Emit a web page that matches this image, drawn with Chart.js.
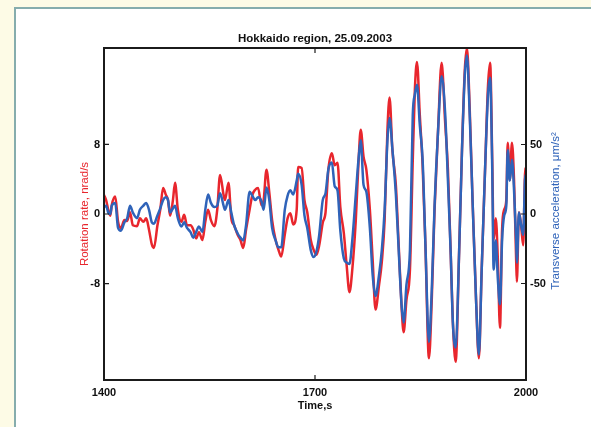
<!DOCTYPE html>
<html>
<head>
<meta charset="utf-8">
<script src="https://cdn.jsdelivr.net/npm/chart.js@4.4.0/dist/chart.umd.min.js"></script>
<style>
    html, body { margin: 0; padding: 0; background: #fdfbe6; overflow: hidden; }
    #panel {
        position: absolute; left: 14px; top: 7px; width: 600px; height: 440px;
        background: #ffffff; border-left: 2px solid #86adad; border-top: 2px solid #86adad;
    }
    #chart { position: absolute; left: 0; top: 0; }
</style>
</head>
<body>
<div id="panel"></div>
<canvas id="chart" width="591" height="427"></canvas>
<script>
// time, s
const times = [1400, 1403, 1406, 1409, 1411, 1416, 1420, 1424, 1429, 1433, 1437, 1441, 1447, 1451, 1456, 1460, 1464, 1468, 1471, 1476,
    1480, 1484, 1488, 1491, 1494, 1498, 1501, 1505, 1510, 1514, 1518, 1523, 1527, 1531, 1535, 1540, 1544, 1548, 1552, 1557,
    1561, 1565, 1570, 1572, 1577, 1581, 1585, 1590, 1594, 1598, 1602, 1607, 1611, 1615, 1619, 1624, 1627, 1631, 1635, 1639,
    1644, 1648, 1652, 1657, 1661, 1665, 1669, 1674, 1676, 1681, 1685, 1689, 1694, 1698, 1702, 1706, 1711, 1715, 1719, 1724,
    1728, 1732, 1736, 1741, 1745, 1749, 1753, 1758, 1762, 1765, 1769, 1773, 1778, 1782, 1786, 1791, 1795, 1799, 1803, 1806,
    1810, 1815, 1819, 1823, 1826, 1830, 1835, 1839, 1842, 1845, 1849, 1853, 1857, 1862, 1866, 1870, 1875, 1880, 1885, 1889,
    1893, 1896, 1900, 1905, 1909, 1913, 1916, 1920, 1924, 1929, 1933, 1937, 1942, 1946, 1949, 1952, 1954, 1957, 1960, 1963,
    1966, 1969, 1972, 1974, 1977, 1980, 1983, 1986, 1987, 1990, 1993, 1996, 1999, 2000];

// rotation rate, nrad/s (left axis, red)
const rotationRate = [2.2, 1.6, 0.5, -0.2, 1.0, 2.0, -0.9, -1.6, -0.7, -0.8, 0.2, -1.3, -1.4, -0.5, -0.9, -0.5, -1.8, -3.5, -3.9, -1.3,
    0.5, 3.0, 2.2, 1.6, -0.2, 1.6, 3.6, 0.5, -0.9, -0.1, -1.3, -1.3, -1.8, -2.8, -2.1, -3.0, -0.9, 0.5, -0.7, -1.4,
    0.5, 4.5, 2.2, 1.6, 3.6, -0.5, -1.3, -2.4, -3.0, -3.9, -1.8, 0.5, 2.2, 2.8, 3.0, 1.0, 1.6, 5.1, 2.5, -0.7,
    -3.0, -4.1, -4.9, -2.4, -0.5, 0.1, -1.2, 0.5, 5.4, 5.3, 1.6, 0.2, -3.0, -4.1, -4.7, -3.6, -1.0, 0.2, 5.1, 7.0,
    5.6, 5.9, 0.8, -2.2, -5.9, -9.0, -6.4, -0.7, 6.2, 9.7, 6.6, 5.1, 0.5, -5.3, -11.0, -8.2, -5.5, -0.7, 9.7, 13.4,
    7.4, 3.3, -3.6, -10.5, -13.6, -9.9, -6.4, 6.2, 14.3, 17.5, 11.4, 5.6, -3.6, -16.6, -9.9, 0.5, 9.7, 17.4, 10.6, 5.1,
    -4.7, -12.4, -17.0, -4.1, 7.4, 16.6, 19.1, 12.0, 1.6, -9.9, -16.6, -6.4, 5.6, 14.8, 17.4, 6.2, -3.0, -0.5, -5.3, -13.1,
    -1.8, 0.5, 1.6, 8.2, 3.9, 8.2, 3.9, -5.3, -7.8, 0.2, -1.3, -3.6, 5.3, 3.9];

// transverse acceleration, um/s^2 (right axis, blue)
const transverseAccel = [5, 6, 1, 0, 6, 8, -10, -12, -6, -3, 6, 1, -3, 3, 6, 8, 3, -6, -7, -1,
    4, 10, 12, 10, 1, 4, 6, -3, -9, -6, -10, -13, -17, -13, -9, -13, 3, 14, 8, 5,
    6, 15, 6, 3, 10, 1, -8, -14, -17, -19, -8, 16, 13, 10, 12, 9, 3, 19, 10, -10,
    -19, -24, -24, 3, 13, 17, 14, 24, 29, 21, -1, -10, -26, -31, -27, -15, 10, 15, 32, 37,
    20, 17, -12, -32, -35, -36, -19, 14, 40, 53, 21, 16, -10, -44, -59, -44, -26, 3, 53, 69,
    47, 14, -26, -65, -78, -51, -26, 71, 86, 93, 64, 39, -22, -92, -55, 6, 60, 99, 73, 24,
    -29, -78, -96, -26, 46, 100, 114, 71, 10, -62, -101, -40, 35, 86, 98, 32, -40, -19, -47, -65,
    -19, -1, 6, 46, 24, 39, 17, -19, -35, 1, -8, -15, 28, 21];

const xTicks = [1400, 1700, 2000];
const leftTicks = [-8, 0, 8];
const rightTicks = [-50, 0, 50];

const RED = '#e8262d';
const BLUE = '#2f63b9';
const FONT = "'Liberation Sans', Arial, sans-serif";
const rightTitle = 'Transverse acceleration, \u03bcm/s\u00b2';

// MATLAB-like box with inward ticks, plus the right axis title read bottom-to-top
const boxTicks = {
    id: 'boxTicks',
    afterDatasetsDraw(chart) {
        const {ctx, chartArea: {left, right, top, bottom}, scales} = chart;
        ctx.save();
        ctx.strokeStyle = '#1b1b1b';
        ctx.lineWidth = 1.2;
        ctx.beginPath();
        xTicks.forEach(function(v) {
            const px = scales.x.getPixelForValue(v);
            ctx.moveTo(px, bottom); ctx.lineTo(px, bottom - 5);
            ctx.moveTo(px, top); ctx.lineTo(px, top + 5);
        });
        leftTicks.forEach(function(v) {
            const py = scales.y.getPixelForValue(v);
            ctx.moveTo(left, py); ctx.lineTo(left + 5, py);
        });
        rightTicks.forEach(function(v) {
            const py = scales.y2.getPixelForValue(v);
            ctx.moveTo(right, py); ctx.lineTo(right - 5, py);
        });
        ctx.stroke();
        ctx.lineWidth = 2;
        ctx.strokeRect(left, top, right - left, bottom - top);

        ctx.translate(right + 30, (top + bottom) / 2 - 3);
        ctx.rotate(-Math.PI / 2);
        ctx.fillStyle = BLUE;
        ctx.font = '11.5px ' + FONT;
        ctx.textAlign = 'center';
        ctx.textBaseline = 'middle';
        ctx.fillText(rightTitle, 0, 0);
        ctx.restore();
    }
};

function tickFont() {
    return {family: FONT, size: 11, weight: 'bold'};
}

function plainLabel(v) {
    return String(v);
}

new Chart(document.getElementById('chart'), {
    type: 'line',
    data: {
        datasets: [
            {
                label: 'Transverse acceleration',
                data: times.map((t, i) => ({x: t, y: transverseAccel[i]})),
                yAxisID: 'y2',
                borderColor: BLUE,
                borderWidth: 2.5,
                pointRadius: 0,
                cubicInterpolationMode: 'monotone',
                order: 0
            },
            {
                label: 'Rotation rate',
                data: times.map((t, i) => ({x: t, y: rotationRate[i]})),
                yAxisID: 'y',
                borderColor: RED,
                borderWidth: 2.5,
                pointRadius: 0,
                cubicInterpolationMode: 'monotone',
                order: 1
            }
        ]
    },
    options: {
        responsive: false,
        animation: false,
        layout: {padding: 0},
        plugins: {
            legend: {display: false},
            tooltip: {enabled: false},
            title: {
                display: true,
                fullSize: false,
                text: 'Hokkaido region, 25.09.2003',
                color: '#111',
                font: {family: FONT, size: 11.5, weight: 'bold'},
                padding: {top: 31.5, bottom: 2.7}
            }
        },
        scales: {
            x: {
                type: 'linear',
                min: 1400,
                max: 2000,
                afterFit: function(s) { s.height = 47; },
                afterBuildTicks: function(s) { s.ticks = xTicks.map(v => ({value: v})); },
                grid: {display: false, drawTicks: false},
                border: {display: false},
                ticks: {padding: 6, color: '#111', font: tickFont(), maxRotation: 0, autoSkip: false, callback: plainLabel},
                title: {
                    display: true,
                    text: 'Time,s',
                    color: '#111',
                    font: tickFont(),
                    padding: {top: 0, bottom: 14}
                }
            },
            y: {
                position: 'left',
                min: -19.1,
                max: 19.1,
                afterFit: function(s) { s.width = 104; },
                afterBuildTicks: function(s) { s.ticks = leftTicks.map(v => ({value: v})); },
                grid: {display: false, drawTicks: false},
                border: {display: false},
                ticks: {padding: 4, color: '#111', font: tickFont(), callback: plainLabel},
                title: {
                    display: true,
                    text: 'Rotation rate, nrad/s',
                    color: RED,
                    font: {family: FONT, size: 11.5},
                    padding: {top: 78, bottom: 0}
                }
            },
            y2: {
                position: 'right',
                min: -119.4,
                max: 119.4,
                afterFit: function(s) { s.width = 65; },
                afterBuildTicks: function(s) { s.ticks = rightTicks.map(v => ({value: v})); },
                grid: {display: false, drawTicks: false},
                border: {display: false},
                ticks: {padding: 4, color: '#111', font: tickFont(), callback: plainLabel},
                title: {display: false}
            }
        }
    },
    plugins: [boxTicks]
});
</script>
</body>
</html>
